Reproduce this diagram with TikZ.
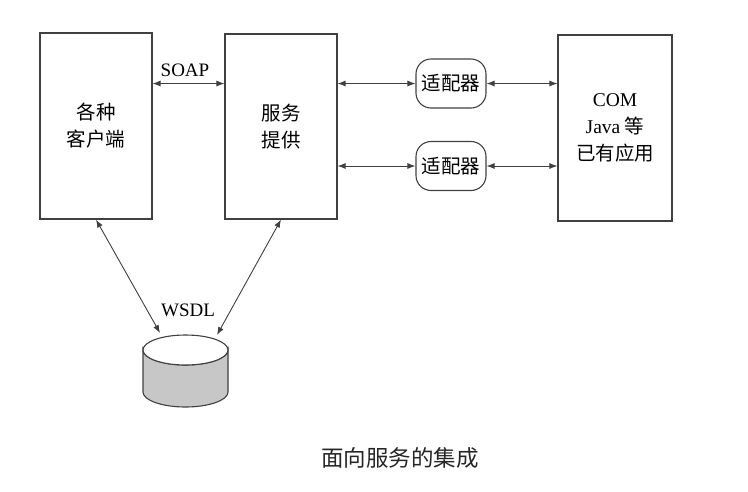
\documentclass[tikz,border=0pt]{standalone}
\usepackage{fontspec}
\setmainfont{Liberation Serif}
\newfontfamily\cjk{Noto Sans CJK SC}
\usetikzlibrary{arrows.meta,positioning}
\tikzset{
    %Define standard arrow tip
    >={Latex[length=8pt,width=6pt]},
    %Define style for boxes
    blk/.style={
           draw=black!75,
           line width=1.1pt,
           align=center,
           font=\fontsize{19.5}{27}\selectfont\cjk,},
    adapter/.style={
           blk,
           rounded corners=15pt,
           minimum width=70pt,
           minimum height=49pt,
           inner sep=0pt,},
    pil/.style={
           <->,
           draw=black!75,
           line width=0.9pt,},
    lbl/.style={
           font=\fontsize{19}{21}\selectfont,}
}
\begin{document}
\begin{tikzpicture}[x=1pt,y=-1pt]
 \useasboundingbox (0,0) rectangle (748,491);
 %boxes
 \node[blk, minimum width=112pt, minimum height=186pt] (client) at (96,126) {各种\\客户端};
 \node[blk, minimum width=112pt, minimum height=185pt] (provider) at (281,126.5) {服务\\提供};
 \node[blk, minimum width=114pt, minimum height=186pt] (legacy) at (615,128)
      {{\rmfamily COM}\\{\rmfamily Java} 等\\已有应用};
 \node[adapter] (adapA) at (451,83.5) {适配器};
 \node[adapter] (adapB) at (451,166) {适配器};

 %database
 \draw[draw=black!75, line width=1.1pt, fill=black!22]
   (143,350) -- (143,392) arc[start angle=180, end angle=0, x radius=42.5, y radius=15]
   -- (228,350) arc[start angle=0, end angle=180, x radius=42.5, y radius=15] -- cycle;
 \draw[draw=black!75, line width=1.1pt, fill=white] (185.5,350) ellipse[x radius=42.5, y radius=15];
 \coordinate (dbL) at (160,333);
 \coordinate (dbR) at (217,335);

 %labels
 \node[lbl] (soap) at (185,70) {SOAP};
 \node[lbl] (wsdl) at (188,310) {WSDL};
 \node[font=\fontsize{22.5}{24}\selectfont\cjk, text=black!85] (caption) at (400,458) {面向服务的集成};

 %connectors
 \draw[pil] (client.east |- adapA) -- (provider.west |- adapA);
 \draw[pil] (provider.east |- adapA) -- (adapA);
 \draw[pil] (provider.east |- adapB) -- (adapB);
 \draw[pil] (adapA) -- (legacy.west |- adapA);
 \draw[pil] (adapB) -- (legacy.west |- adapB);
 \draw[pil] (client.south) -- (dbL);
 \draw[pil] (provider.south) -- (dbR);

\end{tikzpicture}
\end{document}
